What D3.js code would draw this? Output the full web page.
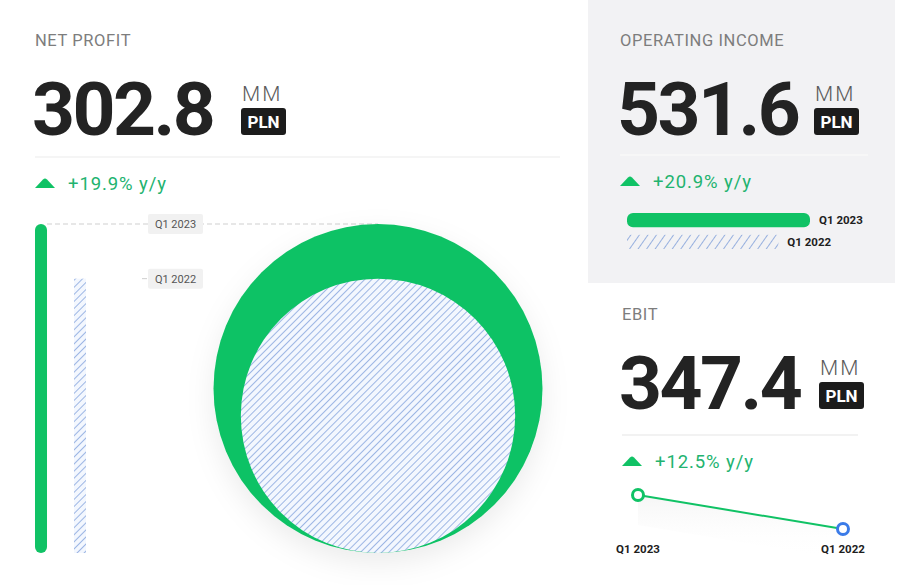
<!DOCTYPE html>
<html>
<head>
<meta charset="utf-8">
<script src="https://cdn.jsdelivr.net/npm/d3@7"></script>
<style>
  html, body { margin: 0; padding: 0; background: #fff; }
  svg { display: block; font-family: Roboto, "Noto Sans", sans-serif; }
</style>
</head>
<body>
<div id="chart"></div>
<script>
// values
const periods = ["Q1 2023", "Q1 2022"];
const netProfit = [302.8, 252.5];
const operatingIncome = [531.6, 439.7];
const ebit = [347.4, 308.8];
const titles = ["NET PROFIT", "OPERATING INCOME", "EBIT"];
const headline = ["302.8", "531.6", "347.4"];
const changes = ["+19.9% y/y", "+20.9% y/y", "+12.5% y/y"];

const width = 900, height = 585;
const green = "#10c265", blue = "#3b7be8", hatchLine = "#6f93d6";

const svg = d3.select("#chart").append("svg")
    .attr("width", width)
    .attr("height", height);

const defs = svg.append("defs");

// diagonal hatch used for the previous-year marks
const pat = defs.append("pattern")
    .attr("id", "hatch")
    .attr("patternUnits", "userSpaceOnUse")
    .attr("width", 5).attr("height", 5)
    .attr("patternTransform", "rotate(45)");
pat.append("rect").attr("width", 5).attr("height", 5).attr("fill", "#f3f7fe");
pat.append("line")
    .attr("x1", 0).attr("y1", 0).attr("x2", 0).attr("y2", 5)
    .attr("stroke", hatchLine).attr("stroke-width", 1.3);

const patWide = defs.append("pattern")
    .attr("id", "hatchWide")
    .attr("patternUnits", "userSpaceOnUse")
    .attr("width", 7).attr("height", 7)
    .attr("patternTransform", "rotate(35)");
patWide.append("line")
    .attr("x1", 0).attr("y1", 0).attr("x2", 0).attr("y2", 7)
    .attr("stroke", hatchLine).attr("stroke-width", 1.4);

const shadow = defs.append("filter").attr("id", "shadow")
    .attr("x", "-20%").attr("y", "-20%").attr("width", "140%").attr("height", "150%");
shadow.append("feDropShadow")
    .attr("dx", 0).attr("dy", 10).attr("stdDeviation", 14)
    .attr("flood-color", "#000").attr("flood-opacity", 0.08);

const areaGrad = defs.append("linearGradient").attr("id", "areaGrad")
    .attr("x1", 0).attr("y1", 0).attr("x2", 0).attr("y2", 1);
areaGrad.append("stop").attr("offset", "0%").attr("stop-color", "#efefef").attr("stop-opacity", 0.6);
areaGrad.append("stop").attr("offset", "100%").attr("stop-color", "#ffffff").attr("stop-opacity", 0);

// grey panel behind operating income
svg.append("rect")
    .attr("x", 588).attr("y", 0).attr("width", 307).attr("height", 283)
    .attr("fill", "#f2f2f4");

// header block: title, big number, MM / PLN, separator, y/y change
function header(x, y, i, sepY, sepX2, sepColor, unitX) {
    svg.append("text")
        .attr("x", x).attr("y", y)
        .attr("fill", "#7d7d7d")
        .attr("font-size", 16.5)
        .attr("letter-spacing", 0.6)
        .text(titles[i]);

    svg.append("text")
        .attr("x", x - 3).attr("y", y + 89)
        .attr("fill", "#232323")
        .attr("font-size", 75)
        .attr("font-weight", 700)
        .attr("letter-spacing", -2.5)
        .text(headline[i]);

    svg.append("text")
        .attr("x", unitX).attr("y", y + 55)
        .attr("fill", "#5a5a5a")
        .attr("font-size", 21)
        .attr("font-weight", 300)
        .attr("letter-spacing", 2)
        .text("MM");

    svg.append("rect")
        .attr("x", unitX - 1).attr("y", y + 62)
        .attr("width", 45).attr("height", 27).attr("rx", 3)
        .attr("fill", "#1c1c1c");
    svg.append("text")
        .attr("x", unitX + 21.5).attr("y", y + 82)
        .attr("text-anchor", "middle")
        .attr("fill", "#fff")
        .attr("font-size", 17)
        .attr("font-weight", 700)
        .text("PLN");

    svg.append("line")
        .attr("x1", x).attr("x2", sepX2)
        .attr("y1", sepY).attr("y2", sepY)
        .attr("stroke", sepColor).attr("stroke-width", 1.5);

    const ty = sepY + 21;
    svg.append("path")
        .attr("d", `M${x},${ty + 10} L${x + 8},${ty + 1.5} Q${x + 10},${ty - 0.5} ${x + 12},${ty + 1.5} L${x + 20},${ty + 10} Z`)
        .attr("fill", green);
    svg.append("text")
        .attr("x", x + 33).attr("y", ty + 12)
        .attr("fill", "#22b36f")
        .attr("font-size", 18.5)
        .attr("letter-spacing", 0.9)
        .text(changes[i]);
}

header(35, 46, 0, 157, 560, "#f2f2f2", 242);
header(620, 46, 1, 155, 868, "#f8f8f9", 815);
header(622, 320, 2, 435, 858, "#eeeeee", 820);

// ---- net profit: thin bars + nested circles ----
const base = 553;
const yNet = d3.scaleLinear()
    .domain([0, d3.max(netProfit)])
    .range([base, 224]);

const xNet = d3.scaleBand()
    .domain(periods)
    .range([35, 86])
    .paddingInner(0.692)
    .paddingOuter(0);

const cx = 378;

// dashed guides and labels
svg.append("line")
    .attr("x1", xNet(periods[0]) + xNet.bandwidth()).attr("x2", cx)
    .attr("y1", yNet(netProfit[0])).attr("y2", yNet(netProfit[0]))
    .attr("stroke", "#cfcfcf").attr("stroke-dasharray", "5,3");
svg.append("line")
    .attr("x1", 142).attr("x2", 152)
    .attr("y1", yNet(netProfit[1])).attr("y2", yNet(netProfit[1]))
    .attr("stroke", "#cfcfcf").attr("stroke-dasharray", "5,3");

periods.forEach((p, i) => {
    const ly = yNet(netProfit[i]);
    svg.append("rect")
        .attr("x", 148).attr("y", ly - 10)
        .attr("width", 55).attr("height", 20).attr("rx", 2)
        .attr("fill", "#f1f1f1");
    svg.append("text")
        .attr("x", 175.5).attr("y", ly + 4)
        .attr("text-anchor", "middle")
        .attr("fill", "#555")
        .attr("font-size", 11)
        .text(p);
});

svg.selectAll("rect.netbar")
    .data(netProfit)
    .enter()
    .append("rect")
    .attr("class", "netbar")
    .attr("x", (d, i) => xNet(periods[i]))
    .attr("y", d => yNet(d))
    .attr("width", xNet.bandwidth())
    .attr("height", d => base - yNet(d))
    .attr("rx", (d, i) => i === 0 ? 6 : 0)
    .attr("fill", (d, i) => i === 0 ? green : "url(#hatch)");

// circle diameter follows the bar height, bottoms aligned
svg.selectAll("circle.netcircle")
    .data(netProfit)
    .enter()
    .append("circle")
    .attr("class", "netcircle")
    .attr("cx", cx)
    .attr("cy", d => base - (base - yNet(d)) / 2)
    .attr("r", d => (base - yNet(d)) / 2)
    .attr("fill", (d, i) => i === 0 ? green : "url(#hatch)")
    .attr("filter", (d, i) => i === 0 ? "url(#shadow)" : null);

// ---- operating income: horizontal bars ----
const xOp = d3.scaleLinear()
    .domain([0, d3.max(operatingIncome)])
    .range([627, 810]);
const yOp = d3.scaleBand()
    .domain(periods)
    .range([213, 249])
    .paddingInner(0.35);

svg.selectAll("rect.opbar")
    .data(operatingIncome)
    .enter()
    .append("rect")
    .attr("class", "opbar")
    .attr("x", xOp(0))
    .attr("y", (d, i) => yOp(periods[i]))
    .attr("width", d => xOp(d) - xOp(0))
    .attr("height", yOp.bandwidth())
    .attr("rx", (d, i) => i === 0 ? 6 : 0)
    .attr("fill", (d, i) => i === 0 ? green : "url(#hatchWide)");

svg.selectAll("text.oplabel")
    .data(operatingIncome)
    .enter()
    .append("text")
    .attr("class", "oplabel")
    .attr("x", d => xOp(d) + 9)
    .attr("y", (d, i) => yOp(periods[i]) + yOp.bandwidth() / 2 + 4)
    .attr("fill", "#1e1e1e")
    .attr("font-size", 11.5)
    .attr("font-weight", 700)
    .text((d, i) => periods[i]);

// ---- EBIT: two-point line ----
const xEb = d3.scalePoint().domain(periods).range([638, 843]);
const yEb = d3.scaleLinear().domain(d3.extent(ebit)).range([529, 495]);

const pts = ebit.map((v, i) => ({p: periods[i], v: v}));

svg.append("path")
    .datum(pts)
    .attr("d", d3.area()
        .x(d => xEb(d.p))
        .y0(d => yEb(d.v) + 30)
        .y1(d => yEb(d.v)))
    .attr("fill", "url(#areaGrad)");

svg.append("path")
    .datum(pts)
    .attr("d", d3.line().x(d => xEb(d.p)).y(d => yEb(d.v)))
    .attr("fill", "none")
    .attr("stroke", green)
    .attr("stroke-width", 2);

svg.selectAll("circle.ebpt")
    .data(pts)
    .enter()
    .append("circle")
    .attr("class", "ebpt")
    .attr("cx", d => xEb(d.p))
    .attr("cy", d => yEb(d.v))
    .attr("r", 5.5)
    .attr("fill", "#fff")
    .attr("stroke", (d, i) => i === 0 ? green : blue)
    .attr("stroke-width", 3);

svg.selectAll("text.eblabel")
    .data(pts)
    .enter()
    .append("text")
    .attr("class", "eblabel")
    .attr("x", d => xEb(d.p))
    .attr("y", 553)
    .attr("text-anchor", "middle")
    .attr("fill", "#1e1e1e")
    .attr("font-size", 11.5)
    .attr("font-weight", 700)
    .text(d => d.p);
</script>
</body>
</html>
